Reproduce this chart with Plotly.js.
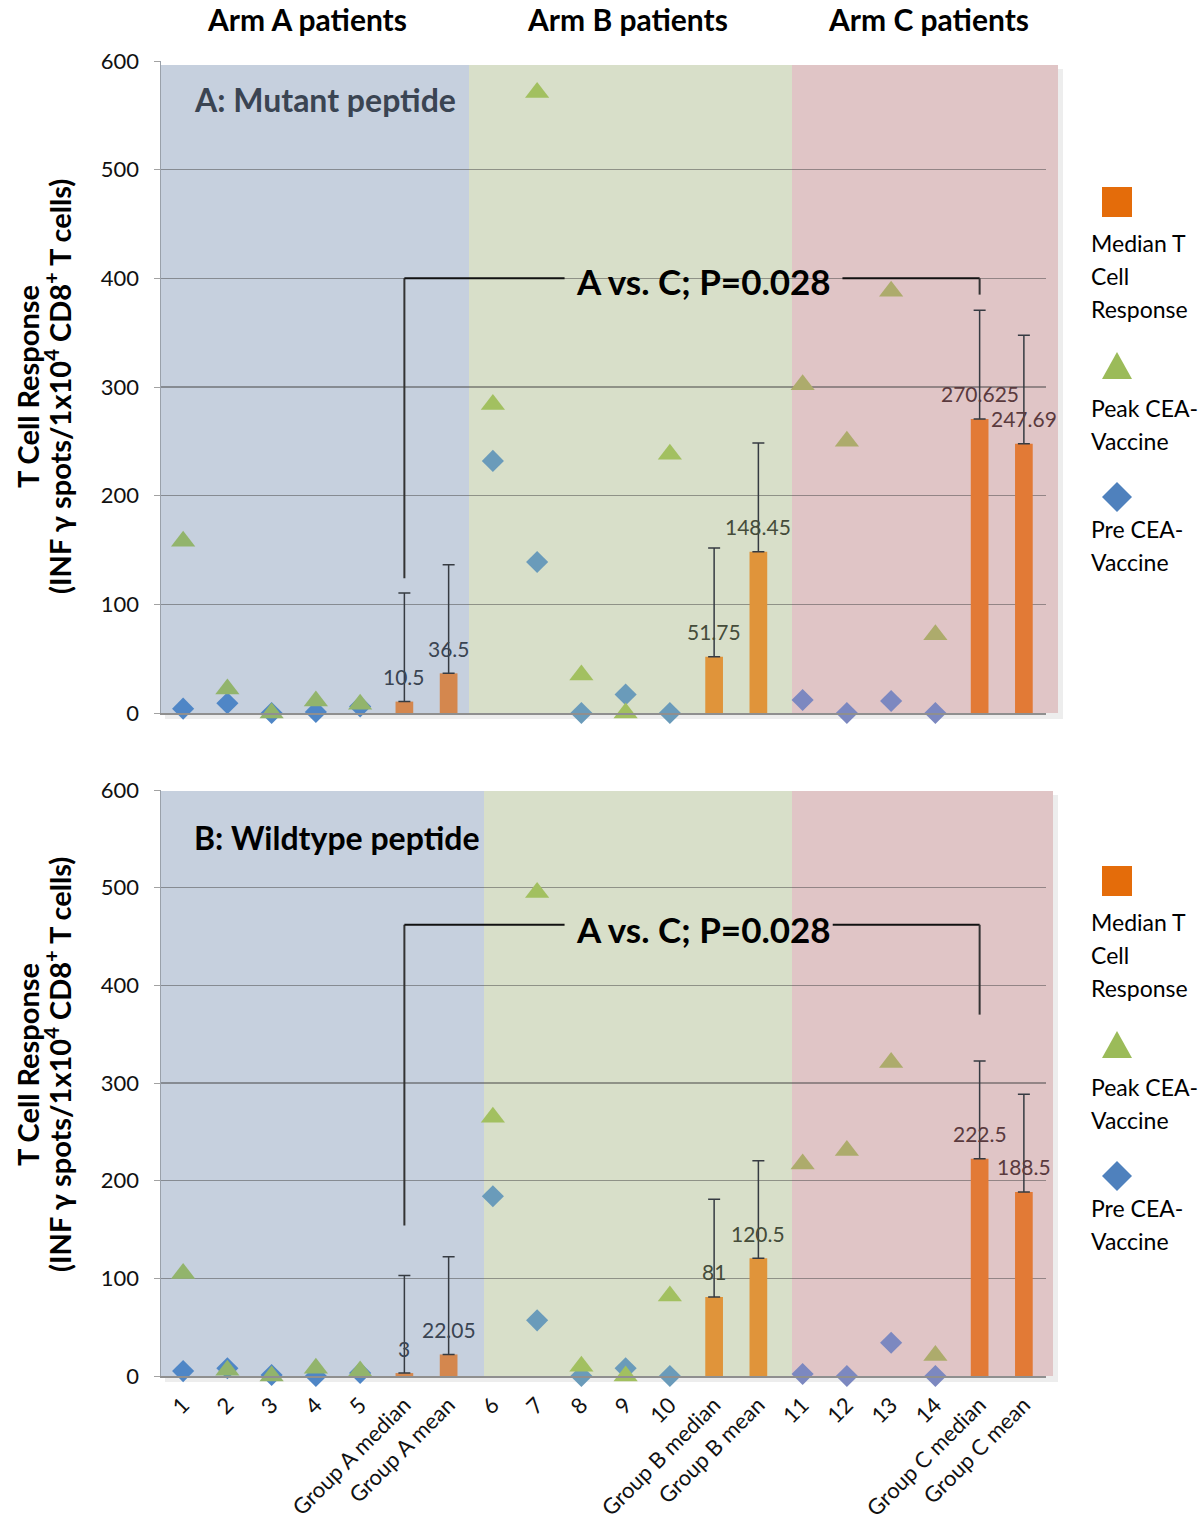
<!DOCTYPE html>
<html>
<head>
<meta charset="utf-8">
<script src="https://cdn.plot.ly/plotly-3.0.1.min.js"></script>
<style>
  html, body { margin: 0; padding: 0; background: #fff; }
  #chart { width: 1200px; height: 1520px; }
</style>
</head>
<body>
<div id="chart"></div>
<script>
// Categories along the x axis (patients and group summaries)
const categories = ['1', '2', '3', '4', '5', 'Group A median', 'Group A mean',
    '6', '7', '8', '9', '10', 'Group B median', 'Group B mean',
    '11', '12', '13', '14', 'Group C median', 'Group C mean'];

// Arm of each category: 0 = A, 1 = B, 2 = C
const arms = [0, 0, 0, 0, 0, 0, 0, 1, 1, 1, 1, 1, 1, 1, 2, 2, 2, 2, 2, 2];

// Panel A: mutant peptide
const mutantPre = [4, 9, 0, 1, 6, null, null, 232, 139, 0, 17, 0, null, null, 12, 0, 11, 0, null, null];
const mutantPeak = [158, 22, 0, 11, 8, null, null, 284, 571, 35, 0, 238, null, null, 302, 250, 388, 72, null, null];
const mutantMedian = [null, null, null, null, null, 10.5, 36.5, null, null, null, null, null, 51.75, 148.45,
    null, null, null, null, 270.625, 247.69];

// Panel B: wildtype peptide
const wildPre = [5, 8, 1, 0, 3, null, null, 184, 57, 0, 8, 0, null, null, 2, 0, 34, 0, null, null];
const wildPeak = [105, 6, 0, 8, 5, null, null, 265, 495, 10, 0, 82, null, null, 217, 231, 321, 21, null, null];
const wildMedian = [null, null, null, null, null, 3, 22.05, null, null, null, null, null, 81, 120.5,
    null, null, null, null, 222.5, 188.5];

// Error bar (upper only) on the summary bars
const errorPlus = [null, null, null, null, null, 100, 100, null, null, null, null, null, 100, 100,
    null, null, null, null, 100, 100];

// Bracket: A vs C comparison, [left foot, bar level, right foot]
const pLabel = 'A vs. C; P=0.028';
const mutantBracket = [124, 400, 385];
const wildBracket = [154, 462, 370];

const armTitles = ['Arm A patients', 'Arm B patients', 'Arm C patients'];
const legendNames = [['Median T', 'Cell', 'Response'], ['Peak CEA-', 'Vaccine'], ['Pre CEA-', 'Vaccine']];

// Colours: tinted by arm background
const BAR_COL = ['#d4874e', '#e0943a', '#e27a36'];
const PEAK_COL = ['#92b46c', '#a2c060', '#adab6c'];
const PRE_COL = ['#4f86c6', '#6a9bba', '#7c88c0'];
const LABEL_COL = ['#3a4452', '#454c3a', '#5a3a3e'];
const BG_COL = ['#c6d0de', '#d8dfc9', '#e0c5c6'];

const FONT = 'Lato, "Open Sans", sans-serif';

// pixel -> paper helpers (plot area 161..1046 x 61..1376)
const L = 161, R = 1046, T = 61, B = 1376;
const px = x => (x - L) / (R - L);
const py = y => (B - y) / (B - T);

const colorsFor = (vals, pal) => vals.map((v, i) => pal[arms[i]]);

function panelTraces(pre, peak, median, xa, ya) {
    return [
        {
            type: 'bar', x: categories, y: median, xaxis: xa, yaxis: ya,
            width: 0.4,
            marker: { color: colorsFor(median, BAR_COL) },
            error_y: {
                type: 'data', symmetric: false, array: errorPlus,
                arrayminus: errorPlus.map(v => (v === null ? null : 0)),
                color: '#363b42', thickness: 1.5, width: 6,
            },
            hoverinfo: 'skip', showlegend: false,
        },
        {
            type: 'scatter', mode: 'markers', x: categories, y: pre, xaxis: xa, yaxis: ya,
            marker: { symbol: 'diamond', size: 17, color: colorsFor(pre, PRE_COL) },
            cliponaxis: false, showlegend: false,
        },
        {
            type: 'scatter', mode: 'markers', x: categories, y: peak, xaxis: xa, yaxis: ya,
            marker: { symbol: 'triangle-up', size: 21, color: colorsFor(peak, PEAK_COL) },
            cliponaxis: false, showlegend: false,
        },
    ];
}

const traces = [
    ...panelTraces(mutantPre, mutantPeak, mutantMedian, 'x', 'y'),
    ...panelTraces(wildPre, wildPeak, wildMedian, 'x2', 'y2'),
];

const shapes = [];

// Arm backgrounds (drawn under the grid)
function addBackground(bounds, top, bottom, right) {
    // soft shadow
    shapes.push({
        type: 'rect', xref: 'paper', yref: 'paper', layer: 'below',
        x0: px(L + 4), x1: px(right + 5), y0: py(bottom + 6), y1: py(top + 4),
        fillcolor: 'rgba(0,0,0,0.07)', line: { width: 0 },
    });
    const edges = [L, bounds[0], bounds[1], right];
    for (let k = 0; k < 3; k++) {
        shapes.push({
            type: 'rect', xref: 'paper', yref: 'paper', layer: 'below',
            x0: px(edges[k]), x1: px(edges[k + 1]), y0: py(bottom), y1: py(top),
            fillcolor: BG_COL[k], line: { width: 0 },
        });
    }
}
addBackground([469, 792], 65, 713, 1058);
addBackground([484, 792], 791, 1376, 1053);

// Comparison bracket
function addBracket(vals, xa, ya, gapL, gapR) {
    const iL = categories.indexOf('Group A median');
    const iR = categories.indexOf('Group C median');
    const ln = { color: '#111', width: 2 };
    shapes.push({ type: 'line', xref: xa, yref: ya, x0: iL, x1: iL, y0: vals[0], y1: vals[1],
        line: { color: '#333', width: 2 } });
    shapes.push({ type: 'line', xref: xa, yref: ya, x0: iL, x1: gapL, y0: vals[1], y1: vals[1], line: ln });
    shapes.push({ type: 'line', xref: xa, yref: ya, x0: gapR, x1: iR, y0: vals[1], y1: vals[1], line: ln });
    shapes.push({ type: 'line', xref: xa, yref: ya, x0: iR, x1: iR, y0: vals[1], y1: vals[2],
        line: { color: '#333', width: 2 } });
}
addBracket(mutantBracket, 'x', 'y', 8.62, 14.9);
addBracket(wildBracket, 'x2', 'y2', 8.62, 14.68);

// Legend symbols
function addLegendSymbols(dy) {
    const cx = 1117;
    shapes.push({ type: 'rect', xref: 'paper', yref: 'paper',
        x0: px(cx - 15), x1: px(cx + 15), y0: py(dy + 217), y1: py(dy + 187),
        fillcolor: '#e46c0a', line: { width: 0 } });
    const ty = dy + 366;
    shapes.push({ type: 'path', xref: 'paper', yref: 'paper',
        path: `M ${px(cx - 15)} ${py(ty + 13)} L ${px(cx + 15)} ${py(ty + 13)} L ${px(cx)} ${py(ty - 14)} Z`,
        fillcolor: '#9bbb59', line: { width: 0 } });
    const dyy = dy + 497;
    shapes.push({ type: 'path', xref: 'paper', yref: 'paper',
        path: `M ${px(cx - 15)} ${py(dyy)} L ${px(cx)} ${py(dyy - 15)} L ${px(cx + 15)} ${py(dyy)} L ${px(cx)} ${py(dyy + 15)} Z`,
        fillcolor: '#4f81bd', line: { width: 0 } });
}
addLegendSymbols(0);
addLegendSymbols(679);

const annotations = [];
const note = (x, y, text, size, opts = {}) => annotations.push({
    xref: 'paper', yref: 'paper', x: px(x), y: py(y), text, showarrow: false,
    xanchor: 'center', yanchor: 'middle', ...opts,
    font: { family: FONT, size, color: opts.color || '#000' },
});

// Arm headings
[307, 627, 928].forEach((x, k) => note(x, 19, `<b>${armTitles[k]}</b>`, 30));

// Panel labels
note(192, 100, '<b>A: Mutant peptide</b>', 32, { xanchor: 'left', color: '#3a4452' });
note(192, 837, '<b>B: Wildtype peptide</b>', 32, { xanchor: 'left' });

// Bracket labels
note(703, 281, `<b>${pLabel}</b>`, 35);
note(703, 929, `<b>${pLabel}</b>`, 35);

// Y axis titles (two separate lines for tight spacing)
const yTitle1 = '<b>T Cell Response</b>';
const yTitle2 = '<b>(INF γ spots/1x10<sup>4</sup> CD8<sup>+</sup> T cells)</b>';
[387, 1065].forEach(y => {
    note(27, y, yTitle1, 29, { textangle: -90 });
    note(58, y, yTitle2, 29, { textangle: -90 });
});

// Bar value labels
function addBarLabels(vals, xa, ya) {
    vals.forEach((v, i) => {
        if (v === null) return;
        annotations.push({ xref: xa, yref: ya, x: i, y: v, yshift: 25, text: String(v), showarrow: false,
            xanchor: 'center', yanchor: 'middle', font: { family: FONT, size: 21, color: LABEL_COL[arms[i]] } });
    });
}
addBarLabels(mutantMedian, 'x', 'y');
addBarLabels(wildMedian, 'x2', 'y2');

// Legend text
[0, 679].forEach(dy => {
    const blocks = [[243, legendNames[0]], [408, legendNames[1]], [529, legendNames[2]]];
    blocks.forEach(([y0, lines]) => {
        lines.forEach((t, j) => note(1089, dy + y0 + j * 33, t, 23, { xanchor: 'left' }));
    });
});

const yAxisBase = {
    range: [0, 600], dtick: 100, tick0: 0,
    showgrid: true, gridcolor: 'rgba(70,70,70,0.5)', gridwidth: 1.3,
    zeroline: false, showline: true, linecolor: '#9aa1aa', linewidth: 1.5,
    ticks: 'outside', ticklen: 6, tickcolor: 'rgba(70,70,70,0.5)',
    ticklabelstandoff: 10,
    tickfont: { family: FONT, size: 22, color: '#111' },
    fixedrange: true,
};
const xAxisBase = {
    type: 'category', range: [-0.5, 19.5],
    showgrid: false, zeroline: false, showline: true, linecolor: '#8f8f8f', linewidth: 1.5,
    ticks: '', fixedrange: true,
};

const layout = {
    width: 1200, height: 1520,
    margin: { l: L, r: 1200 - R, t: T, b: 1520 - B },
    paper_bgcolor: '#fff', plot_bgcolor: 'rgba(0,0,0,0)',
    font: { family: FONT, color: '#000' },
    showlegend: false,
    xaxis: { ...xAxisBase, anchor: 'y', showticklabels: false },
    yaxis: { ...yAxisBase, domain: [py(713), 1], anchor: 'x' },
    xaxis2: { ...xAxisBase, anchor: 'y2', showticklabels: true, tickangle: -45,
        ticklabelstandoff: 6,
        tickfont: { family: FONT, size: 22, color: '#111' } },
    yaxis2: { ...yAxisBase, domain: [0, py(790)], anchor: 'x2' },
    shapes,
    annotations,
};

Plotly.newPlot('chart', traces, layout, { displayModeBar: false, staticPlot: true });
</script>
</body>
</html>
